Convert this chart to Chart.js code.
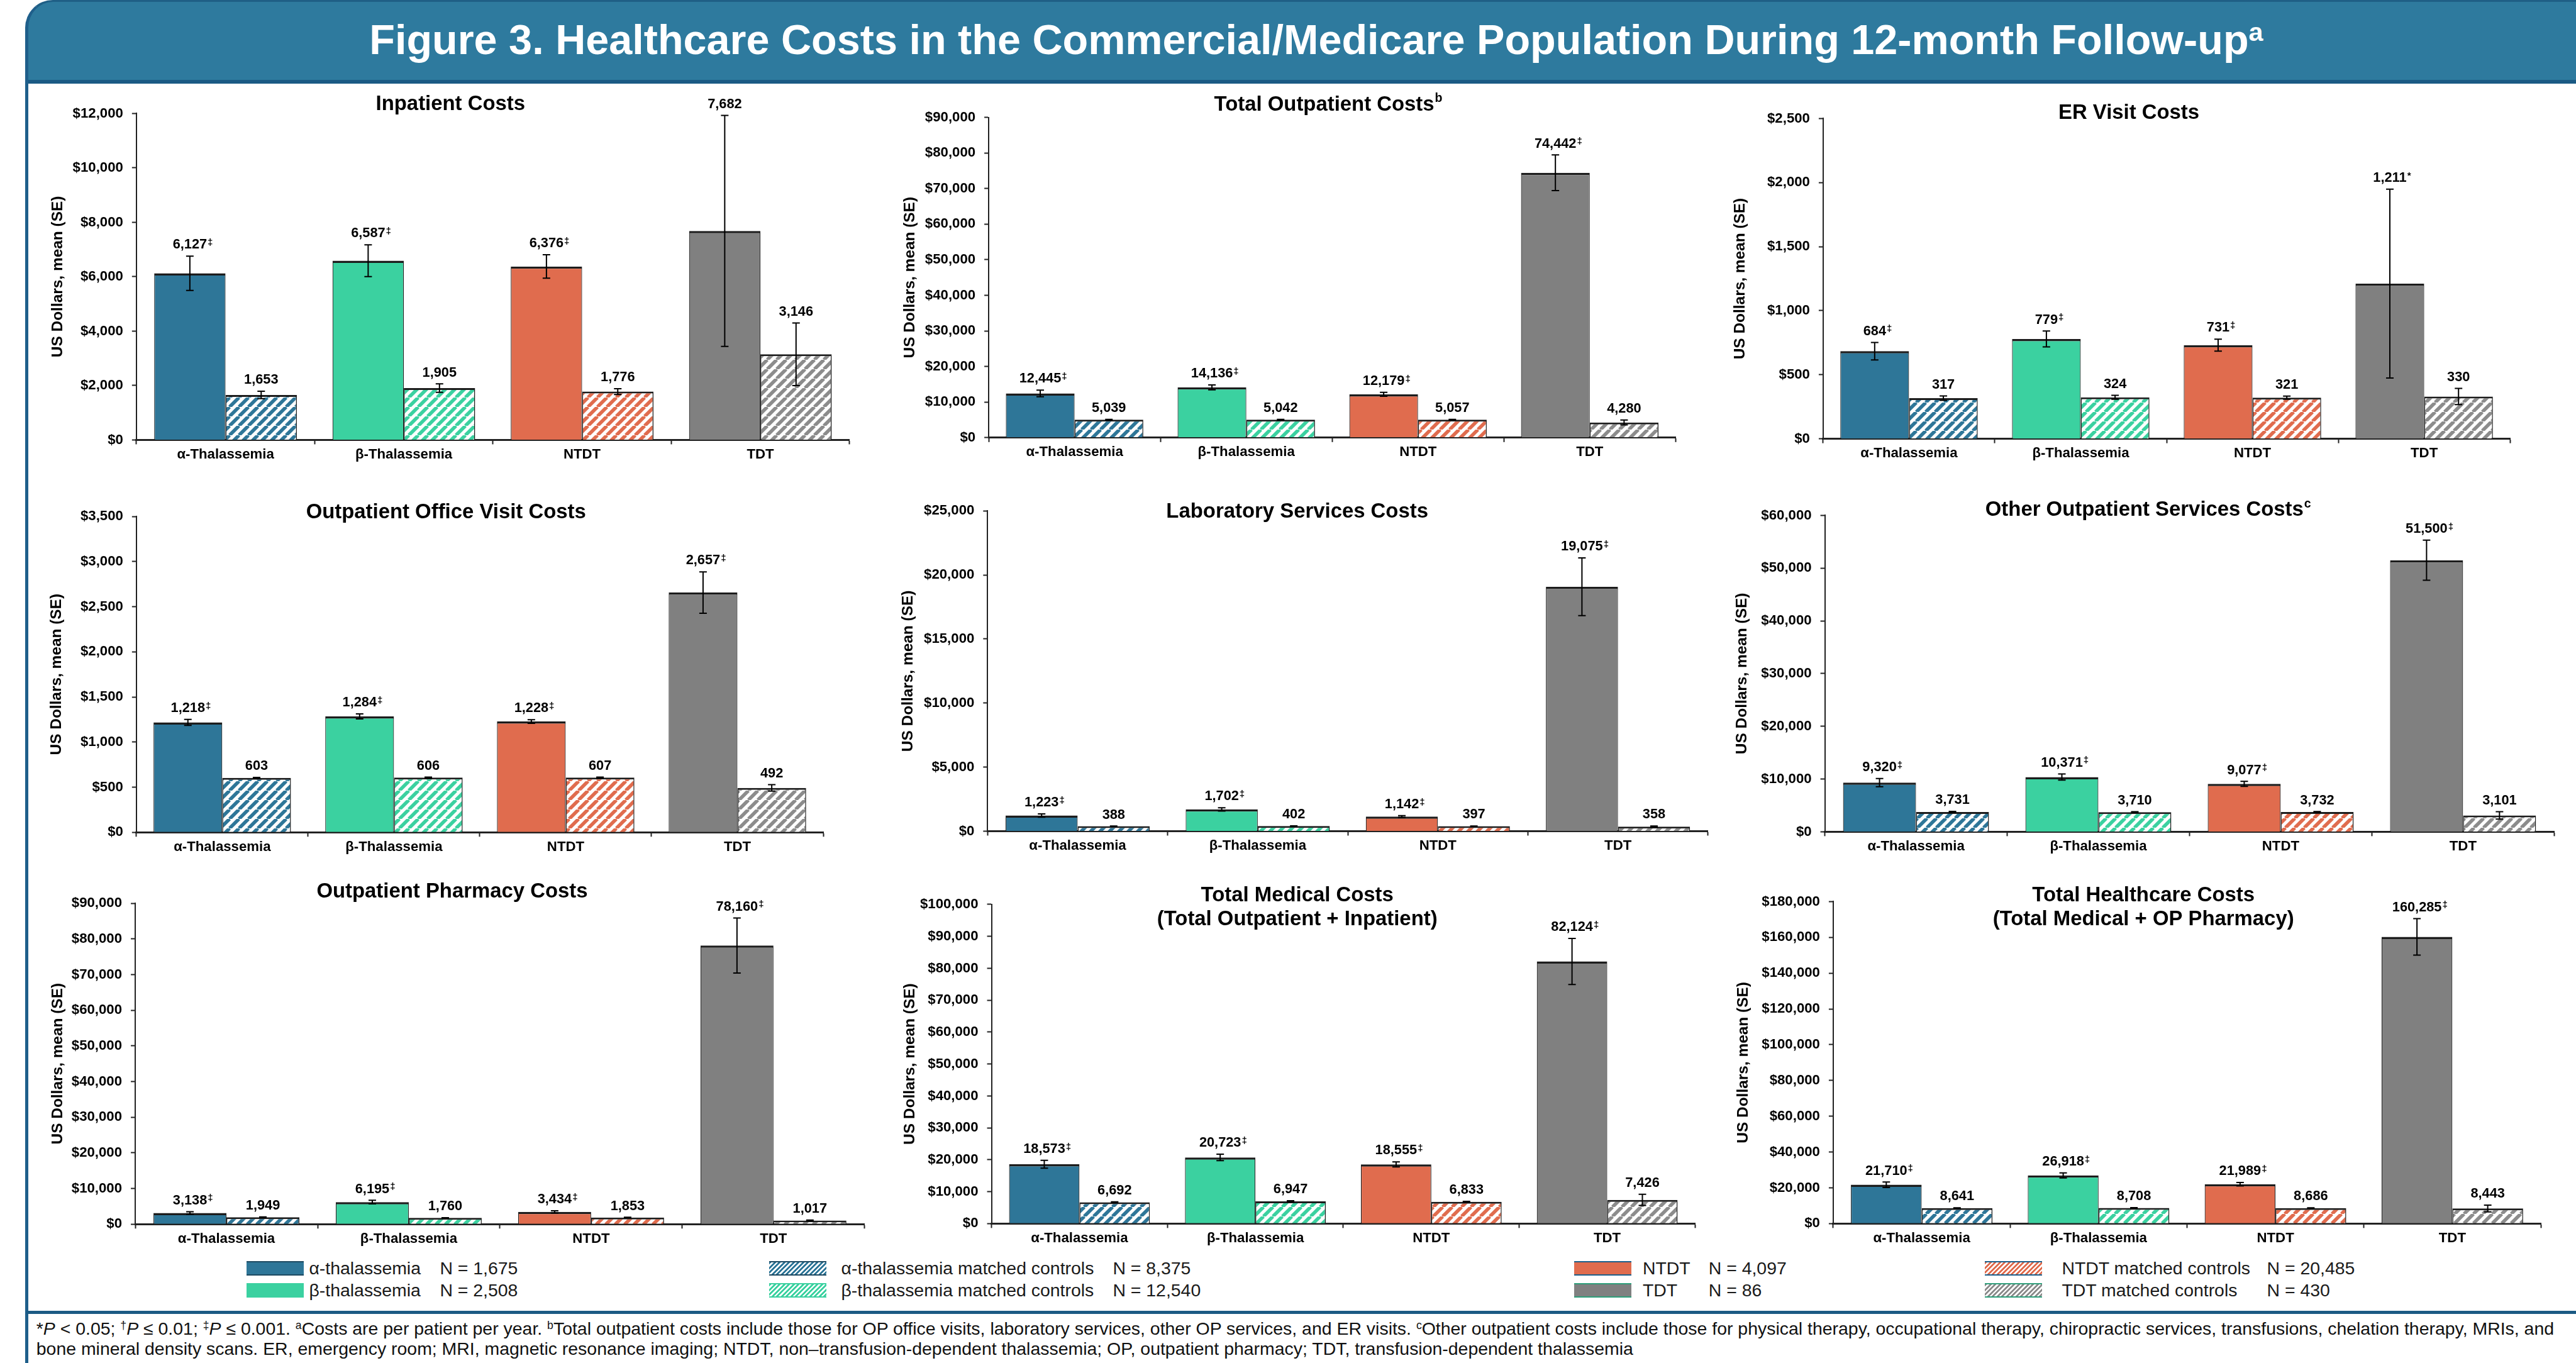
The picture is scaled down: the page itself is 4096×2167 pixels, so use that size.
<!DOCTYPE html>
<html><head><meta charset="utf-8">
<script src="https://cdn.jsdelivr.net/npm/chart.js@4.4.1/dist/chart.umd.min.js"></script>
<style>
html,body{margin:0;padding:0;background:#fff;width:4096px;height:2167px;overflow:hidden;font-family:"Liberation Sans",Arial,Helvetica,sans-serif;}
.abs{position:absolute;}
#banner{left:40px;top:0;width:4200px;height:124px;background:#2e7a9e;border-top:3px solid #1f5f86;border-left:5px solid #1f5f8b;border-top-left-radius:44px;border-bottom:6px solid #1b5a84;}
#frameLine{left:40px;top:100px;width:5px;height:2100px;background:#1f5f8b;}
#mainTitle{white-space:nowrap;color:#fff;font-weight:bold;line-height:1;}
.sup{font-size:0.62em;position:relative;top:-0.5em;}
.fn{white-space:nowrap;color:#111;line-height:1;}
.lg{white-space:nowrap;color:#1a1a1a;line-height:1;}
.sw{position:absolute;box-sizing:border-box;}
#sep{left:42px;top:2084px;width:4100px;height:5px;background:#1b5a84;}
</style>
</head><body>
<div id="banner" class="abs"></div>
<div id="frameLine" class="abs"></div>
<div id="mainTitle" class="abs">Figure 3. Healthcare Costs in the Commercial/Medicare Population During 12-month Follow-up<span class="sup">a</span></div>
<div id="sep" class="abs"></div>
<div id="fn1" class="abs fn">*<i>P</i> &lt; 0.05; <span class="sup">†</span><i>P</i> ≤ 0.01; <span class="sup">‡</span><i>P</i> ≤ 0.001. <span class="sup">a</span>Costs are per patient per year. <span class="sup">b</span>Total outpatient costs include those for OP office visits, laboratory services, other OP services, and ER visits. <span class="sup">c</span>Other outpatient costs include those for physical therapy, occupational therapy, chiropractic services, transfusions, chelation therapy, MRIs, and</div>
<div id="fn2" class="abs fn">bone mineral density scans. ER, emergency room; MRI, magnetic resonance imaging; NTDT, non–transfusion-dependent thalassemia; OP, outpatient pharmacy; TDT, transfusion-dependent thalassemia</div>
<script>
const S = 4096 / 4609;
const FONT = "'Liberation Sans', Arial, Helvetica, sans-serif";

// ---------------- DATA ----------------
const categories = ['α-Thalassemia', 'β-Thalassemia', 'NTDT', 'TDT'];

const inpatientCases = [6127, 6587, 6376, 7682];
const inpatientControls = [1653, 1905, 1776, 3146];
const inpatientCaseSE = [630, 585, 432, 4245];
const inpatientControlSE = [135, 155, 107, 1150];
const inpatientMarks = ['‡', '‡', '‡', ''];

const totalOutpatientCases = [12445, 14136, 12179, 74442];
const totalOutpatientControls = [5039, 5042, 5057, 4280];
const totalOutpatientCaseSE = [920, 700, 560, 5000];
const totalOutpatientControlSE = [120, 110, 90, 700];
const totalOutpatientMarks = ['‡', '‡', '‡', '‡'];

const erCases = [684, 779, 731, 1211];
const erControls = [317, 324, 321, 330];
const erCaseSE = [68, 62, 47, 737];
const erControlSE = [17, 15, 12, 63];
const erMarks = ['‡', '‡', '‡', '*'];

const officeCases = [1218, 1284, 1228, 2657];
const officeControls = [603, 606, 607, 492];
const officeCaseSE = [33, 28, 20, 229];
const officeControlSE = [6, 6, 5, 36];
const officeMarks = ['‡', '‡', '‡', '‡'];

const labCases = [1223, 1702, 1142, 19075];
const labControls = [388, 402, 397, 358];
const labCaseSE = [130, 130, 70, 2250];
const labControlSE = [12, 12, 12, 50];
const labMarks = ['‡', '‡', '‡', '‡'];

const otherCases = [9320, 10371, 9077, 51500];
const otherControls = [3731, 3710, 3732, 3101];
const otherCaseSE = [780, 580, 470, 3800];
const otherControlSE = [120, 100, 90, 700];
const otherMarks = ['‡', '‡', '‡', '‡'];

const pharmacyCases = [3138, 6195, 3434, 78160];
const pharmacyControls = [1949, 1760, 1853, 1017];
const pharmacyCaseSE = [350, 500, 300, 7700];
const pharmacyControlSE = [100, 60, 80, 150];
const pharmacyMarks = ['‡', '‡', '‡', '‡'];

const medicalCases = [18573, 20723, 18555, 82124];
const medicalControls = [6692, 6947, 6833, 7426];
const medicalCaseSE = [1230, 1000, 780, 7200];
const medicalControlSE = [150, 200, 120, 1750];
const medicalMarks = ['‡', '‡', '‡', '‡'];

const healthcareCases = [21710, 26918, 21989, 160285];
const healthcareControls = [8641, 8708, 8686, 8443];
const healthcareCaseSE = [1500, 1400, 950, 10200];
const healthcareControlSE = [200, 200, 150, 1900];
const healthcareMarks = ['‡', '‡', '‡', '‡'];

const yAxisMax = [12000, 90000, 2500, 3500, 25000, 60000, 90000, 100000, 180000];
const yAxisStep = [2000, 10000, 500, 500, 5000, 10000, 10000, 10000, 20000];
const yAxisTitle = 'US Dollars, mean (SE)';

const panelTitles = [
  [['Inpatient Costs', '']],
  [['Total Outpatient Costs', 'b']],
  [['ER Visit Costs', '']],
  [['Outpatient Office Visit Costs', '']],
  [['Laboratory Services Costs', '']],
  [['Other Outpatient Services Costs', 'c']],
  [['Outpatient Pharmacy Costs', '']],
  [['Total Medical Costs', ''], ['(Total Outpatient + Inpatient)', '']],
  [['Total Healthcare Costs', ''], ['(Total Medical + OP Pharmacy)', '']]
];

const legendLabels = ['α-thalassemia', 'β-thalassemia', 'α-thalassemia matched controls', 'β-thalassemia matched controls',
  'NTDT', 'TDT', 'NTDT matched controls', 'TDT matched controls'];
const legendCounts = ['N = 1,675', 'N = 2,508', 'N = 8,375', 'N = 12,540', 'N = 4,097', 'N = 86', 'N = 20,485', 'N = 430'];

// ---------------- STYLE / LAYOUT (reference px) ----------------
const caseColors = ['#2e7698', '#3bd1a0', '#e06c4e', '#808080'];
const hatchColors = ['#2e7698', '#3bd1a0', '#e06c4e', '#8c8c8c'];
const plotBoxes = [
  [244, 203, 1520, 787], [1769, 210, 2998, 783], [3262, 212, 4491, 785],
  [244, 924, 1473, 1489], [1767, 914, 3056, 1487], [3265, 922, 4570, 1488],
  [242, 1616, 1547, 2190], [1774, 1618, 3033, 2189], [3280, 1613, 4546, 2189]];
const titleAnchors = [[806, [184]], [2376, [185]], [3809, [199]], [798, [914]], [2321, [913]], [3843, [910]],
  [809, [1592]], [2321, [1599, 1642]], [3835, [1599, 1642]]];
const yTitleOffsets = [140, 141, 148, 142, 142, 148, 138, 146, 161];

const panels = [
  [inpatientCases, inpatientControls, inpatientCaseSE, inpatientControlSE, inpatientMarks],
  [totalOutpatientCases, totalOutpatientControls, totalOutpatientCaseSE, totalOutpatientControlSE, totalOutpatientMarks],
  [erCases, erControls, erCaseSE, erControlSE, erMarks],
  [officeCases, officeControls, officeCaseSE, officeControlSE, officeMarks],
  [labCases, labControls, labCaseSE, labControlSE, labMarks],
  [otherCases, otherControls, otherCaseSE, otherControlSE, otherMarks],
  [pharmacyCases, pharmacyControls, pharmacyCaseSE, pharmacyControlSE, pharmacyMarks],
  [medicalCases, medicalControls, medicalCaseSE, medicalControlSE, medicalMarks],
  [healthcareCases, healthcareControls, healthcareCaseSE, healthcareControlSE, healthcareMarks]
];

function hatch(color) {
  const n = 15;
  const c = document.createElement('canvas'); c.width = n; c.height = n;
  const g = c.getContext('2d');
  g.fillStyle = '#fff'; g.fillRect(0, 0, n, n);
  g.strokeStyle = color; g.lineWidth = 5.6;
  g.beginPath();
  for (let k = -1; k <= 1; k++) { g.moveTo(k * n, n); g.lineTo(k * n + n, 0); }
  g.stroke();
  return g.createPattern(c, 'repeat');
}
const hatchPatterns = hatchColors.map(hatch);

function overlay(i, vals, cl, ct) {
  const [cases, controls, caseSE, controlSE, marks] = vals;
  return {
    id: 'overlay' + i,
    afterDatasetsDraw(chart) {
      const ctx = chart.ctx, ys = chart.scales.y;
      [[cases, caseSE, marks], [controls, controlSE, null]].forEach(([v, se, mk], d) => {
        const meta = chart.getDatasetMeta(d);
        v.forEach((val, k) => {
          const x = meta.data[k].x;
          const yT = ys.getPixelForValue(val + se[k]);
          const yB = ys.getPixelForValue(val - se[k]);
          ctx.save();
          ctx.strokeStyle = '#000'; ctx.lineWidth = 2;
          ctx.beginPath();
          ctx.moveTo(x, yT); ctx.lineTo(x, yB);
          ctx.moveTo(x - 6, yT); ctx.lineTo(x + 6, yT);
          ctx.moveTo(x - 6, yB); ctx.lineTo(x + 6, yB);
          ctx.stroke();
          const F = 24.5 * S;
          ctx.font = `bold ${F}px ${FONT}`;
          ctx.fillStyle = '#000'; ctx.textAlign = 'center'; ctx.textBaseline = 'alphabetic';
          const base = yT - 22 * S + 0.358 * F;
          const txt = val.toLocaleString('en-US');
          ctx.fillText(txt, x, base);
          if (mk && mk[k]) {
            const w = ctx.measureText(txt).width;
            ctx.font = `bold ${17 * S}px ${FONT}`;
            ctx.textAlign = 'left';
            ctx.fillText(mk[k], x + w / 2 + 1, base - 0.25 * F);
          }
          ctx.restore();
        });
      });
    },
    afterDraw(chart) {
      const ctx = chart.ctx;
      const [cx, ysList] = titleAnchors[i];
      const F = 37 * S, FS = 22 * S;
      panelTitles[i].forEach(([text, sup], li) => {
        ctx.save();
        ctx.fillStyle = '#000'; ctx.textBaseline = 'alphabetic'; ctx.textAlign = 'left';
        ctx.font = `bold ${F}px ${FONT}`;
        const w = ctx.measureText(text).width;
        ctx.font = `bold ${FS}px ${FONT}`;
        const w2 = sup ? ctx.measureText(sup).width : 0;
        const x0 = cx * S - cl - (w + w2) / 2;
        const base = ysList[li] * S - ct + 0.358 * F;
        ctx.font = `bold ${F}px ${FONT}`;
        ctx.fillText(text, x0, base);
        if (sup) { ctx.font = `bold ${FS}px ${FONT}`; ctx.fillText(sup, x0 + w + 1, base - 0.42 * F); }
        ctx.restore();
      });
    }
  };
}

panels.forEach((vals, i) => {
  const [L, T, R, B] = plotBoxes[i];
  const cl = Math.round((L - 205) * S), ct = Math.round((T - 100) * S);
  const cr = Math.round((R + 30) * S), cb = Math.round((B + 60) * S);
  const cw = cr - cl, ch = cb - ct;
  const canvas = document.createElement('canvas');
  canvas.width = cw; canvas.height = ch;
  canvas.style.cssText = `position:absolute;left:${cl}px;top:${ct}px;width:${cw}px;height:${ch}px;`;
  document.body.appendChild(canvas);
  const yW = L * S - cl, padTop = T * S - ct, padRight = cr - R * S, xH = cb - B * S;
  const yTitleFont = 27.5 * S;
  const yTitlePad = (L - yTitleOffsets[i]) * S - cl - 0.6 * yTitleFont;
  const tickFont = { family: FONT, size: 25 * S, weight: 'bold' };
  new Chart(canvas, {
    type: 'bar',
    data: {
      labels: categories,
      datasets: [
        { data: vals[0], backgroundColor: caseColors, borderColor: '#1c1c1c',
          borderWidth: { top: 3.5, left: 1.2, right: 1.2, bottom: 0 }, categoryPercentage: 0.8, barPercentage: 1 },
        { data: vals[1], backgroundColor: hatchPatterns, borderColor: '#1c1c1c',
          borderWidth: { top: 3, left: 1.5, right: 1.5, bottom: 0 }, categoryPercentage: 0.8, barPercentage: 1 }
      ]
    },
    options: {
      responsive: false, animation: false, devicePixelRatio: 1,
      layout: { padding: { left: 0, top: padTop, right: padRight, bottom: 0 } },
      plugins: { legend: { display: false }, tooltip: { enabled: false }, title: { display: false } },
      scales: {
        x: {
          grid: { display: true, drawOnChartArea: false, drawTicks: true, tickLength: 7, tickWidth: 2, tickColor: '#222', offset: true },
          border: { display: true, color: '#222', width: 3 },
          ticks: { color: '#000', font: tickFont, padding: 3, maxRotation: 0, autoSkip: false },
          afterFit: s => { s.height = xH; }
        },
        y: {
          min: 0, max: yAxisMax[i],
          ticks: { stepSize: yAxisStep[i], color: '#000', font: tickFont, padding: 14,
                   callback: v => '$' + Number(v).toLocaleString('en-US') },
          grid: { display: true, drawOnChartArea: false, drawTicks: true, tickLength: 7, tickWidth: 2, tickColor: '#222' },
          border: { display: true, color: '#222', width: 2 },
          title: { display: true, text: yAxisTitle, color: '#000',
                   font: { family: FONT, size: yTitleFont, weight: 'bold' }, padding: { top: yTitlePad, bottom: 0 } },
          afterFit: s => { s.width = yW; }
        }
      }
    },
    plugins: [overlay(i, vals, cl, ct)]
  });
});

// ---------------- LEGEND ----------------
const swatchX = [441, 1376, 2816, 3551], textX = [553, 1505, 2939, 3689], countX = [787, 1991, 3057, 4056];
const rowY = [2269, 2309];
const bandColors = ['#1d4a62', 'transparent', '#1d4a62', '#3bd1a0', '#1d5f8a', '#2e9e7a', '#1d5f8a', '#2e9e7a'];
const legendFill = [caseColors[0], caseColors[1], 'h' + hatchColors[0], 'h' + hatchColors[1],
  caseColors[2], caseColors[3], 'h' + hatchColors[2], 'h' + hatchColors[3]];
const LF = 32 * S;
legendLabels.forEach((lab, k) => {
  const col = Math.floor(k / 2), row = k % 2;
  const cy = rowY[row] * S;
  const sw = document.createElement('div');
  sw.className = 'sw';
  const fill = legendFill[k];
  sw.style.cssText += `left:${swatchX[col] * S}px;top:${cy - 11.5}px;width:${103 * S}px;height:23px;` +
    `border-top:2.5px solid ${bandColors[k]};border-bottom:2.5px solid ${bandColors[k]};` +
    (fill[0] === 'h' ? `background:repeating-linear-gradient(135deg, ${fill.slice(1)} 0 2.6px, #fff 2.6px 5.3px);`
                     : `background:${fill};`);
  document.body.appendChild(sw);
  const t = document.createElement('div');
  t.className = 'abs lg';
  t.textContent = lab;
  t.style.cssText += `left:${textX[col] * S}px;top:${cy - 0.5165 * LF}px;font-size:${LF}px;`;
  document.body.appendChild(t);
  const n = document.createElement('div');
  n.className = 'abs lg';
  n.textContent = legendCounts[k];
  n.style.cssText += `left:${countX[col] * S}px;top:${cy - 0.5165 * LF}px;font-size:${LF}px;`;
  document.body.appendChild(n);
});

// ---------------- TITLE & FOOTNOTE FITTING ----------------
function fit(el, target) {
  el.style.fontSize = '100px';
  const w = el.getBoundingClientRect().width;
  const f = 100 * target / w;
  el.style.fontSize = f + 'px';
  return f;
}
const mt = document.getElementById('mainTitle');
const mf = fit(mt, (4050 - 661) * S);
const mw = mt.getBoundingClientRect().width;
mt.style.left = (2355 * S - mw / 2) + 'px';
mt.style.top = (97 * S - 0.8465 * mf) + 'px';

const fn1 = document.getElementById('fn1'), fn2 = document.getElementById('fn2');
const ff = fit(fn1, (4571 - 65) * S);
fn2.style.fontSize = ff + 'px';
fn1.style.left = fn2.style.left = (65 * S) + 'px';
fn1.style.top = (2377 * S - 0.5165 * ff) + 'px';
fn2.style.top = (2413 * S - 0.5165 * ff) + 'px';
</script>
</body></html>
